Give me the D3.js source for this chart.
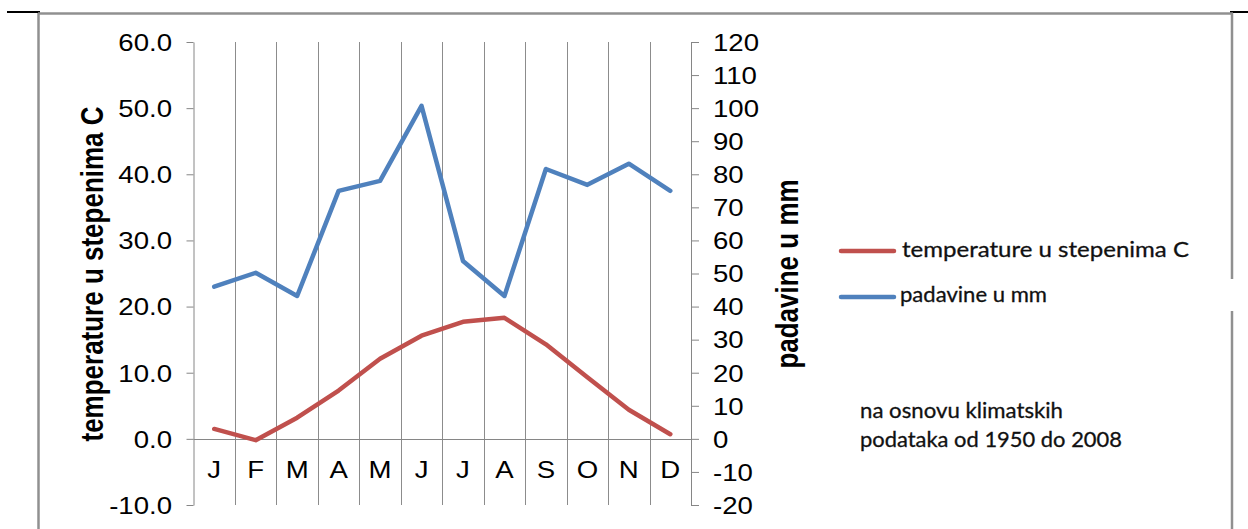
<!DOCTYPE html>
<html><head><meta charset="utf-8">
<script src="https://cdn.jsdelivr.net/npm/d3@7"></script>
<style>body{margin:0;background:#fff}svg{display:block}</style>
</head><body><svg id="c" width="1248" height="529"></svg>
<script>
const months = ["J","F","M","A","M","J","J","A","S","O","N","D"];
const temperature = [1.5,-0.2,3.2,7.3,12.1,15.6,17.7,18.3,14.3,9.3,4.4,0.7];
const precipitation = [46,50.2,43.2,75,78,100.7,53.8,43.2,81.6,76.8,83.2,75];
const tempTicks = [-10,0,10,20,30,40,50,60];
const precipTicks = [-20,-10,0,10,20,30,40,50,60,70,80,90,100,110,120];
const tempTitle = "temperature u stepenima C";
const precipTitle = "padavine u mm";
const legendLabels = ["temperature u stepenima C","padavine u mm"];
const noteLines = ["na osnovu klimatskih","podataka od 1950 do 2008"];

const RED = "#C0504D", BLUE = "#4F81BD", GRID = "#8c8c8c", AXIS = "#868686";
const SX = 1.2;
const svg = d3.select("#c");
const hyph = f => v => f(v).replace("\u2212","-");

// page rule and frame
svg.append("line").attr("x1",7).attr("x2",40).attr("y1",12).attr("y2",12).attr("stroke","#000").attr("stroke-width",2);
svg.append("line").attr("x1",1230).attr("x2",1248).attr("y1",12).attr("y2",12).attr("stroke","#000").attr("stroke-width",2);
svg.append("line").attr("x1",38).attr("x2",1233).attr("y1",13.5).attr("y2",13.5).attr("stroke","#909090").attr("stroke-width",2.5);
svg.append("line").attr("x1",38.5).attr("x2",38.5).attr("y1",13).attr("y2",529).attr("stroke","#909090").attr("stroke-width",2.5);
svg.append("line").attr("x1",1232).attr("x2",1232).attr("y1",13).attr("y2",279).attr("stroke","#909090").attr("stroke-width",2.5);
svg.append("line").attr("x1",1232).attr("x2",1232).attr("y1",311).attr("y2",529).attr("stroke","#909090").attr("stroke-width",2.5);

const x0 = 193.5, x1 = 691, yTop = 42, yBot = 505;
const x = d3.scaleBand().domain(d3.range(months.length)).range([x0, x1]).padding(0);
const yL = d3.scaleLinear().domain([-10,60]).range([yBot,yTop]);
const yR = d3.scaleLinear().domain([-20,120]).range([yBot,yTop]);

// vertical gridlines at category boundaries
const g = svg.append("g");
g.selectAll("line.grid").data(d3.range(1, months.length)).join("line")
  .attr("x1", i => Math.round(x(i))+0.5).attr("x2", i => Math.round(x(i))+0.5)
  .attr("y1", yTop).attr("y2", yBot).attr("stroke", GRID).attr("stroke-width",1);

// horizontal category axis at zero
g.append("line").attr("x1",x0).attr("x2",x1).attr("y1",Math.round(yL(0))+0.5).attr("y2",Math.round(yL(0))+0.5)
  .attr("stroke",AXIS).attr("stroke-width",1);

function styleAxis(sel, side){
  sel.select(".domain").attr("stroke",AXIS);
  sel.selectAll(".tick line").attr("stroke",AXIS);
  sel.selectAll(".tick text")
    .attr("font-family","'Liberation Sans', Arial, sans-serif").attr("font-size",23).attr("fill","#000")
    .attr("dy","0.36em");
  sel.selectAll(".tick text").each(function(){
    const t = d3.select(this);
    if(side==="left"){ t.attr("x", -21.5/SX).attr("transform",`scale(${SX},1)`); }
    else { t.attr("x", 22/SX).attr("transform",`scale(${SX},1)`).attr("text-anchor","start"); }
  });
}

const axL = svg.append("g").attr("transform",`translate(${x0},0)`)
  .call(d3.axisLeft(yL).tickValues(tempTicks).tickFormat(hyph(d3.format(".1f"))).tickSize(7).tickSizeOuter(0));
styleAxis(axL,"left");
const axR = svg.append("g").attr("transform",`translate(${x1},0)`)
  .call(d3.axisRight(yR).tickValues(precipTicks).tickFormat(hyph(d3.format("d"))).tickSize(8).tickSizeOuter(0));
styleAxis(axR,"right");

// category labels
svg.append("g").selectAll("text").data(months).join("text")
  .attr("transform",(d,i)=>`translate(${x(i)+x.bandwidth()/2},478) scale(${SX},1)`)
  .attr("text-anchor","middle").attr("font-family","'Liberation Sans', Arial, sans-serif")
  .attr("font-size",23).attr("fill","#000").text(d=>d);

// axis titles
svg.append("text").attr("transform",`translate(92,274) scale(${SX},1) rotate(-90)`)
  .attr("text-anchor","middle").attr("dominant-baseline","central")
  .attr("font-family","'Liberation Sans', Arial, sans-serif").attr("font-weight","bold").attr("font-size",26)
  .text(tempTitle);
svg.append("text").attr("transform",`translate(787,274) scale(${SX},1) rotate(-90)`)
  .attr("text-anchor","middle").attr("dominant-baseline","central")
  .attr("font-family","'Liberation Sans', Arial, sans-serif").attr("font-weight","bold").attr("font-size",26)
  .text(precipTitle);

// series lines
const cx = i => x(i) + x.bandwidth()/2;
svg.append("path").datum(precipitation)
  .attr("d", d3.line().x((d,i)=>cx(i)).y(d=>yR(d)))
  .attr("fill","none").attr("stroke",BLUE).attr("stroke-width",4.5).attr("stroke-linejoin","round").attr("stroke-linecap","round");
svg.append("path").datum(temperature)
  .attr("d", d3.line().x((d,i)=>cx(i)).y(d=>yL(d)))
  .attr("fill","none").attr("stroke",RED).attr("stroke-width",4.5).attr("stroke-linejoin","round").attr("stroke-linecap","round");

// legend
const legend = [{c:RED, y:251, tx:902, tb:257, w:287},{c:BLUE, y:297, tx:900, tb:302, w:147}];
legend.forEach((l,i)=>{
  svg.append("line").attr("x1",841).attr("x2",894).attr("y1",l.y).attr("y2",l.y)
    .attr("stroke",l.c).attr("stroke-width",4.5).attr("stroke-linecap","round");
  svg.append("text").attr("x",l.tx).attr("y",l.tb)
    .attr("font-family","Lato, 'Open Sans', sans-serif").attr("font-size",22).attr("fill","#111")
    .attr("stroke","#111").attr("stroke-width",0.3)
    .attr("textLength",l.w).attr("lengthAdjust","spacingAndGlyphs").text(legendLabels[i]);
});

// note
const noteW = [203, 262];
noteLines.forEach((t,i)=>{
  svg.append("text").attr("x",860).attr("y",418 + i*29)
    .attr("font-family","Lato, 'Open Sans', sans-serif").attr("font-size",21).attr("fill","#111")
    .attr("stroke","#111").attr("stroke-width",0.3)
    .attr("textLength",noteW[i]).attr("lengthAdjust","spacingAndGlyphs").text(t);
});
</script></body></html>
